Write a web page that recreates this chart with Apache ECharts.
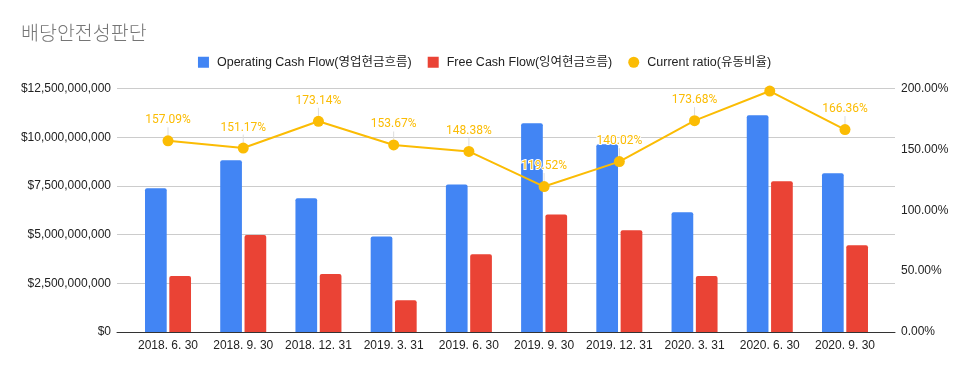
<!DOCTYPE html>
<html>
<head>
<meta charset="utf-8">
<script src="https://cdn.jsdelivr.net/npm/echarts@6/dist/echarts.min.js"></script>
<style>html,body{margin:0;padding:0;background:#fff}#c{width:969px;height:371px}</style>
</head>
<body>
<div id="c"></div>
<script>
const title = '배당안전성판단';
const categories = ['2018. 6. 30','2018. 9. 30','2018. 12. 31','2019. 3. 31','2019. 6. 30','2019. 9. 30','2019. 12. 31','2020. 3. 31','2020. 6. 30','2020. 9. 30'];
const seriesNames = ['Operating Cash Flow(영업현금흐름)','Free Cash Flow(잉여현금흐름)','Current ratio(유동비율)'];
const operatingCF = [7.38e9, 8.82e9, 6.87e9, 4.91e9, 7.58e9, 10.72e9, 9.64e9, 6.15e9, 11.13e9, 8.15e9];
const freeCF = [2.88e9, 4.98e9, 2.98e9, 1.63e9, 3.99e9, 6.04e9, 5.22e9, 2.88e9, 7.74e9, 4.45e9];
const currentRatio = [157.09, 151.17, 173.14, 153.67, 148.38, 119.52, 140.02, 173.68, 198.0, 166.36];
const hiddenLabelIndex = [8];
const leftTicks = { min: 0, max: 12.5e9, interval: 2.5e9 };
const rightTicks = { min: 0, max: 200, interval: 50 };

const chart = echarts.init(document.getElementById('c'), null, { renderer: 'canvas' });
const axisFont = { fontFamily: 'Arial, "Liberation Sans", "Noto Sans CJK KR"', fontSize: 12, color: '#222' };
const gridTop = 88.6, gridBottom = 39;

function money(v) { return '$' + Math.round(v).toLocaleString('en-US'); }

const lineData = currentRatio.map((v, i) => hiddenLabelIndex.includes(i) ? { value: v, label: { show: false } } : v);

chart.setOption({
  animation: false,
  backgroundColor: '#fff',
  title: {
    text: title, left: 16, top: 18,
    textStyle: { fontFamily: '"Noto Sans CJK KR"', fontWeight: 300, fontSize: 19.5, color: '#757575' }
  },
  legend: {
    top: 51, left: 'center', itemWidth: 11, itemHeight: 11, itemGap: 16,
    data: [
      { name: seriesNames[0], icon: 'rect' },
      { name: seriesNames[1], icon: 'rect' },
      { name: seriesNames[2], icon: 'circle' }
    ],
    textStyle: { fontFamily: 'Arial, "Liberation Sans", "Noto Sans CJK KR"', fontSize: 12.5, color: '#222', padding: [0, 0, 0, 3] }
  },
  grid: [
    { left: 117, right: 74, top: gridTop, bottom: gridBottom },
    { left: 130.4, right: 86.4, top: gridTop, bottom: gridBottom }
  ],
  xAxis: [
    { type: 'category', gridIndex: 0, data: categories, axisLine: { lineStyle: { color: '#333', width: 1 } },
      axisTick: { show: false }, axisLabel: { show: false }, splitLine: { show: false } },
    { type: 'category', gridIndex: 1, data: categories, axisLine: { show: false }, axisTick: { show: false },
      axisLabel: Object.assign({ margin: 8, interval: 0 }, axisFont) }
  ],
  yAxis: [
    { type: 'value', gridIndex: 0, position: 'left', min: leftTicks.min, max: leftTicks.max, interval: leftTicks.interval,
      axisLine: { show: false }, axisTick: { show: false },
      axisLabel: Object.assign({ margin: 6, formatter: money }, axisFont),
      splitLine: { lineStyle: { color: '#cccccc', width: 1 } } },
    { type: 'value', gridIndex: 0, position: 'right', min: rightTicks.min, max: rightTicks.max, interval: rightTicks.interval,
      axisLine: { show: false }, axisTick: { show: false },
      axisLabel: Object.assign({ margin: 6, formatter: v => v.toFixed(2) + '%' }, axisFont),
      splitLine: { show: false } },
    { type: 'value', gridIndex: 1, position: 'left', min: leftTicks.min, max: leftTicks.max, interval: leftTicks.interval, show: false },
    { type: 'value', gridIndex: 1, position: 'right', min: rightTicks.min, max: rightTicks.max, interval: rightTicks.interval, show: false }
  ],
  series: [
    { name: seriesNames[0], type: 'bar', xAxisIndex: 1, yAxisIndex: 2, data: operatingCF,
      barWidth: 21.7, barGap: '12%', itemStyle: { color: '#4285F4', borderRadius: [2, 2, 0, 0] } },
    { name: seriesNames[1], type: 'bar', xAxisIndex: 1, yAxisIndex: 2, data: freeCF,
      barWidth: 21.7, barGap: '12%', itemStyle: { color: '#EA4335', borderRadius: [2, 2, 0, 0] } },
    { name: seriesNames[2], type: 'line', xAxisIndex: 1, yAxisIndex: 3, data: lineData, z: 5,
      symbol: 'circle', symbolSize: 11, lineStyle: { color: '#FBBC04', width: 2 }, itemStyle: { color: '#FBBC04' },
      label: { show: true, position: 'top', distance: 5, formatter: p => p.value.toFixed(2) + '%',
        fontFamily: 'Roboto', fontSize: 12, color: '#FBBC04', textBorderColor: '#fff', textBorderWidth: 2 },
      labelLayout: { dy: -4 },
      labelLine: { show: true, lineStyle: { color: '#dddddd', width: 1 } } }
  ]
});
</script>
</body>
</html>
